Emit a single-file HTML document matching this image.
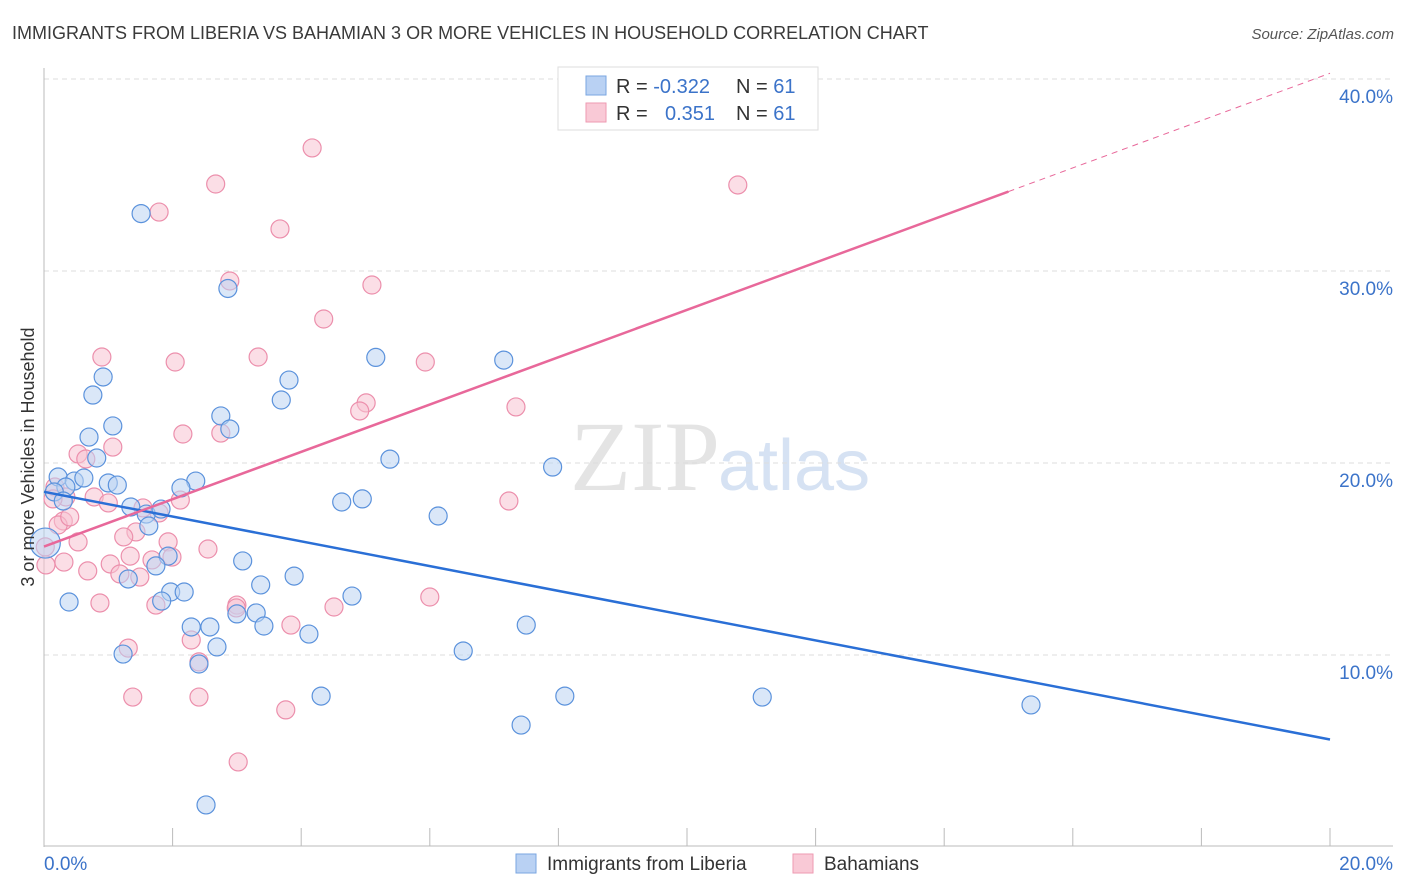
<!DOCTYPE html>
<html><head><meta charset="utf-8"><style>
body{margin:0;background:#fff;font-family:"Liberation Sans",sans-serif;}
svg{display:block}
</style></head><body>
<svg id="chart" width="1406" height="892" xmlns="http://www.w3.org/2000/svg">
<text x="12" y="39" font-size="18" fill="#3a3a3a">IMMIGRANTS FROM LIBERIA VS BAHAMIAN 3 OR MORE VEHICLES IN HOUSEHOLD CORRELATION CHART</text>
<text x="1394" y="39" font-size="15" font-style="italic" fill="#555" text-anchor="end">Source: ZipAtlas.com</text>
<text x="720" y="490" font-size="100" fill="#e4e4e4" text-anchor="end" font-family="Liberation Serif, serif">ZIP</text>
<text x="718" y="490" font-size="72" fill="#d6e2f3">atlas</text>
<g id="grid"></g>
<g id="axes"></g>
<g id="pts"></g>
<g id="lines"></g>
<text transform="translate(34,457) rotate(-90)" font-size="18" fill="#333" text-anchor="middle">3 or more Vehicles in Household</text>
<g>
<rect x="558" y="67" width="260" height="63" fill="#fff" stroke="#ddd"/>
<rect x="586" y="76" width="20" height="19" fill="#b9d1f3" stroke="#7aa6e0"/>
<rect x="586" y="103" width="20" height="19" fill="#f9c9d6" stroke="#ee9ab2"/>
<text x="616" y="93" font-size="20" fill="#333">R = <tspan fill="#3b73c9">-0.322</tspan></text>
<text x="736" y="93" font-size="20" fill="#333">N = <tspan fill="#3b73c9">61</tspan></text>
<text x="616" y="120" font-size="20" fill="#333">R = </text>
<text x="665" y="120" font-size="20" fill="#3b73c9">0.351</text>
<text x="736" y="120" font-size="20" fill="#333">N = <tspan fill="#3b73c9">61</tspan></text>
</g>
<g>
<rect x="516" y="854" width="20" height="19" fill="#b9d1f3" stroke="#7aa6e0"/>
<text x="547" y="870" font-size="19" fill="#333">Immigrants from Liberia</text>
<rect x="793" y="854" width="20" height="19" fill="#f9c9d6" stroke="#ee9ab2"/>
<text x="824" y="870" font-size="19" fill="#333">Bahamians</text>
</g>
</svg>
<script>
const yTicks=[10,20,30,40];
const xTickLabels=["0.0%","20.0%"];
const blueX=[1.51,2.86,5.16,7.15,0.92,3.81,0.76,3.69,2.75,1.07,2.89,0.70,5.38,0.82,7.91,0.22,0.47,0.62,0.34,1.00,1.14,0.16,2.36,2.13,4.63,4.95,0.30,1.35,1.59,1.82,1.63,6.13,0.02,1.93,3.09,1.74,3.89,1.31,3.37,1.97,2.18,4.79,0.39,1.83,3.00,3.30,2.29,2.58,3.42,4.12,7.50,2.69,1.23,6.52,2.41,4.31,8.10,11.17,15.35,7.42,2.52];
const blueY=[32.99,29.09,25.5,25.36,24.48,24.32,23.54,23.28,22.45,21.93,21.77,21.35,20.2,20.26,19.79,19.27,19.06,19.22,18.75,18.96,18.85,18.49,19.06,18.7,17.97,18.13,18.02,17.71,17.34,17.6,16.72,17.24,15.83,15.15,14.9,14.64,14.11,13.96,13.65,13.28,13.28,13.07,12.76,12.81,12.14,12.19,11.46,11.46,11.51,11.09,11.56,10.42,10.05,10.21,9.53,7.86,7.86,7.81,7.4,6.35,2.19];
const pinkX=[4.17,2.67,10.79,1.79,3.67,2.89,5.10,4.35,0.90,2.04,3.33,5.93,5.01,4.91,7.34,2.16,2.75,1.07,0.53,0.65,0.17,0.34,0.78,1.00,1.54,7.23,2.12,0.30,0.22,1.43,1.24,0.53,1.93,0.02,2.55,1.34,1.68,1.99,1.03,0.31,0.68,1.18,1.49,3.00,4.51,6.00,0.87,1.74,2.29,1.31,2.41,1.38,2.41,3.76,3.02,0.03,1.79,3.84,2.99,0.14,0.40];
const pinkY=[36.41,34.53,34.48,33.07,32.19,29.48,29.27,27.5,25.52,25.26,25.52,25.26,23.13,22.71,22.92,21.51,21.56,20.83,20.47,20.21,18.75,18.23,18.23,17.92,17.66,18.02,18.07,16.98,16.77,16.41,16.15,15.89,15.89,15.63,15.52,15.15,14.95,15.1,14.74,14.84,14.38,14.22,14.06,12.6,12.5,13.02,12.71,12.6,10.78,10.36,9.64,7.81,7.81,7.14,4.43,14.69,17.4,11.56,12.45,18.13,17.19];
const blueLine=[18.5,5.6];
const pinkLine=[15.65,40.3];
const NS="http://www.w3.org/2000/svg";
const X=v=>44+v/20*1286, Y=v=>847-v*19.2;
function mk(t,a,p){const e=document.createElementNS(NS,t);for(const k in a)e.setAttribute(k,a[k]);p.appendChild(e);return e;}
const grid=document.getElementById('grid'),axes=document.getElementById('axes'),pts=document.getElementById('pts'),lines=document.getElementById('lines');
yTicks.forEach(t=>{
 const l=mk('line',{x1:44,x2:1393,y1:Y(t),y2:Y(t),stroke:'#ddd','stroke-dasharray':'5,4'},grid);
 
 
 const tx=mk('text',{x:1393,y:Y(t)+24,'font-size':19,fill:'#3b73c9','text-anchor':'end'},axes);
 tx.textContent=t.toFixed(1)+'%';
 
 
});
mk('line',{x1:44,x2:44,y1:68,y2:847,stroke:'#bbb'},axes);
mk('line',{x1:44,x2:1393,y1:846,y2:846,stroke:'#bbb'},axes);
for(let i=1;i<=10;i++){const x=X(i*2);const t=mk('line',{x1:x,x2:x,y1:828,y2:846,stroke:'#bbb'},axes);}
const xl0=mk('text',{x:44,y:870,'font-size':19,fill:'#3b73c9'},axes);xl0.textContent=xTickLabels[0];


const xl1=mk('text',{x:1393,y:870,'font-size':19,fill:'#3b73c9','text-anchor':'end'},axes);xl1.textContent=xTickLabels[1];


function dots(xs,ys,fill,stroke,name){xs.forEach((x,i)=>{const c=mk('circle',{cx:X(x),cy:Y(ys[i]),r:i==32&&name=='blue-point'?15:9,fill:fill,'fill-opacity':0.55,stroke:stroke,'stroke-width':1.2},pts);
 
 });}
dots(pinkX,pinkY,'#f7c3d2','#ec8fac','pink-point');
dots(blueX,blueY,'#bcd3f3','#5b92dc','blue-point');
const bl=mk('line',{x1:X(0),y1:Y(blueLine[0]),x2:X(20),y2:Y(blueLine[1]),stroke:'#2a6fd6','stroke-width':2.5},lines);


const px=15,py=pinkLine[0]+(pinkLine[1]-pinkLine[0])*px/20;
const pl=mk('line',{x1:X(0),y1:Y(pinkLine[0]),x2:X(px),y2:Y(py),stroke:'#e8689a','stroke-width':2.5},lines);


const pd=mk('line',{x1:X(px),y1:Y(py),x2:X(20),y2:Y(pinkLine[1]),stroke:'#e8689a','stroke-width':1,'stroke-dasharray':'6,5'},lines);


</script>
</body></html>
